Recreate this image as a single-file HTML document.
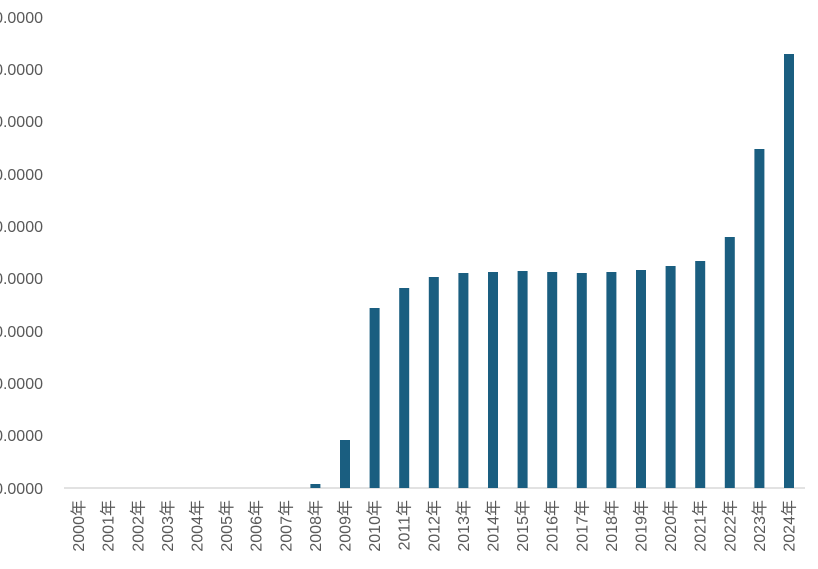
<!DOCTYPE html>
<html><head><meta charset="utf-8"><style>body{margin:0;background:#fff}</style></head><body>
<svg width="818" height="564" xmlns="http://www.w3.org/2000/svg" font-family="Liberation Sans, Noto Sans CJK SC, sans-serif" fill="#595959">
<g font-size="16" text-anchor="end">
<text x="43" y="23">900.0000</text>
<text x="43" y="75">800.0000</text>
<text x="43" y="127">700.0000</text>
<text x="43" y="180">600.0000</text>
<text x="43" y="232">500.0000</text>
<text x="43" y="284">400.0000</text>
<text x="43" y="337">300.0000</text>
<text x="43" y="389">200.0000</text>
<text x="43" y="441">100.0000</text>
<text x="43" y="494">0.0000</text>
</g>
<line x1="64" y1="488" x2="805" y2="488" stroke="#d9d9d9" stroke-width="1.5"/>
<g fill="#1a5e80" id="bars"></g>
<g font-size="16" text-anchor="end" id="labs"></g>
</svg>
<script>
var tops=[488,488,488,488,488,488,488,488,484,440,308,288,277,273,272,271,272,273,272,270,266,261,237,149,54];
var b=document.getElementById('bars'),l=document.getElementById('labs'),ns='http://www.w3.org/2000/svg';
for(var i=0;i<25;i++){var cx=78.6+i*29.6;
if(tops[i]<488){var r=document.createElementNS(ns,'rect');r.setAttribute('x',cx-5);r.setAttribute('y',tops[i]);r.setAttribute('width',10);r.setAttribute('height',488-tops[i]);b.appendChild(r);}
var t=document.createElementNS(ns,'text');t.setAttribute('transform','translate('+(cx+5.5)+',500) rotate(-90)');t.textContent=(2000+i)+'年';l.appendChild(t);}
</script>
</body></html>
